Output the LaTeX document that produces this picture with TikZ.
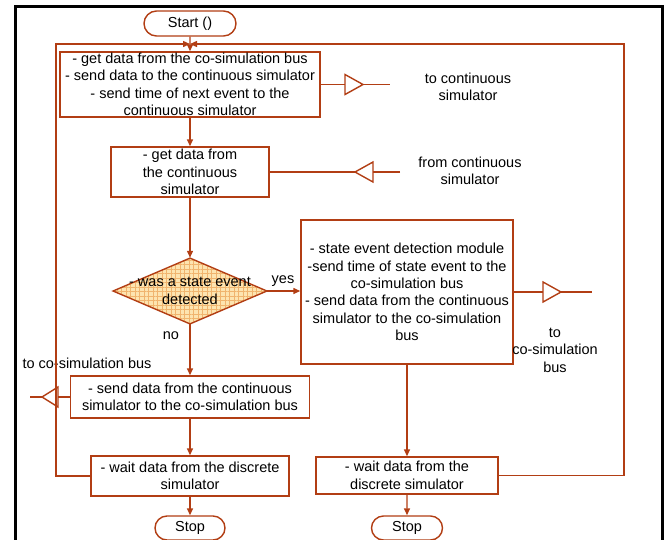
\documentclass[tikz,border=0pt]{standalone}
\usepackage{fontspec}
\setmainfont{Liberation Sans}
\usepackage{xcolor}
\usepackage{tikz}
\usetikzlibrary{arrows.meta, positioning, shapes.geometric, shapes.misc, patterns.meta}
\definecolor{flowred}{RGB}{178,62,20}
\definecolor{diafill}{RGB}{253,228,176}
\definecolor{diagrid}{RGB}{240,180,110}

\begin{document}
\begin{tikzpicture}[x=1pt, y=-1pt,
  every node/.style={font=\fontsize{14.5}{17.4}\selectfont, inner sep=0pt},
  proc/.style={draw=flowred, line width=1.4pt, align=center, fill=white},
  term/.style={draw=flowred, line width=1.4pt, rounded rectangle, fill=white},
  cond/.style={diamond, draw=flowred, line width=1.4pt, preaction={fill=diafill},
    pattern={Hatch[distance=4.5pt, line width=0.5pt]}, pattern color=diagrid},
  port/.style={isosceles triangle, isosceles triangle stretches, draw=flowred, line width=1.4pt, fill=white, outer sep=0pt, minimum width=20, minimum height=18},
  link/.style={draw=flowred, line width=1.4pt},
  flow/.style={link, -{Triangle[length=7pt,width=6pt]}},
  lbl/.style={align=center}]
  \useasboundingbox (0,0) rectangle (665,539);
  % outer frame, open at the bottom
  \draw[line width=3pt] (15,545) -- (15,6) -- (662,6) -- (662,545);
  % left column
  \node[term, minimum width=92, minimum height=25] (start) at (190,23.5) {Start ()};
  \node[proc, minimum width=260, minimum height=65] (getbus) at (190,84.5)
    {- get data from the co-simulation  bus\\- send data to the continuous simulator\\- send time of next event to the\\continuous simulator};
  \node[proc, minimum width=158, minimum height=50] (getcont) at (190,172)
    {- get data from\\the continuous\\simulator};
  \node[cond, minimum width=154, minimum height=66] (detect) at (190,291)
    {};
  \node[lbl] at (detect.center) {- was a state event\\detected};
  \node[proc, minimum width=239, minimum height=42] (sendL) at (190,397)
    {- send data from the continuous\\simulator to the co-simulation  bus};
  \node[proc, minimum width=198, minimum height=40] (waitL) at (190,476)
    {- wait data from the discrete\\simulator};
  \node[term, minimum width=70, minimum height=24] (stopL) at (190,528) {Stop};
  % right column
  \node[proc, minimum width=212, minimum height=144] (sebox) at (407,292)
    {- state event detection module\\-send time of state event to the\\co-simulation  bus\\- send data from the continuous\\simulator to the co-simulation\\bus};
  \node[proc, minimum width=182, minimum height=37] (waitR) at (407,475.5)
    {- wait data from the\\discrete simulator};
  \node[term, minimum width=71, minimum height=24] (stopR) at (407,528) {Stop};
  % ports
  \node[port, anchor=lower side] (portA) at (345,84.5) {};
  \node[port, shape border rotate=180, anchor=lower side] (portB) at (373,172) {};
  \node[port, anchor=lower side] (portC) at (543,292) {};
  \node[port, shape border rotate=180, anchor=lower side, minimum height=16] (portD) at (58,397) {};
  \coordinate (endA) at (390,84.5);
  \coordinate (endB) at (400,172);
  \coordinate (endC) at (592,292);
  \coordinate (endD) at (30,397);
  % loop back lines
  \coordinate (loopL) at (56,44);
  \coordinate (loopR) at (624,44);
  \coordinate (join) at (190,44);
  % labels
  \node[lbl] (labA) at (468,87) {to continuous\\simulator};
  \node[lbl] (labB) at (470,171) {from continuous\\simulator};
  \node[lbl] (labC) at (555,350) {to\\co-simulation\\bus};
  \node[lbl] (labD) at (87,363) {to co-simulation bus};
  \node (yes) at (283,281) {yes};
  \node (no) at (171,336) {no};
  % connectors
  \draw[flow] (start) -- (getbus);
  \draw[flow] (getbus) -- (getcont);
  \draw[flow] (getcont) -- (detect);
  \draw[flow] (detect.east) -- (sebox.west |- detect.east);
  \draw[flow] (detect) -- (sendL);
  \draw[flow] (sendL) -- (waitL);
  \draw[flow] (waitL) -- (stopL);
  \draw[flow] (sebox) -- (waitR);
  \draw[flow] (waitR) -- (stopR);
  \draw[flow] (waitL.west) -| (loopL) -- (join);
  \draw[flow] (waitR.east) -| (loopR) -- (join);
  \draw[link] (getbus.east) -- (portA.lower side);
  \draw[link] (portA.apex) -- (endA);
  \draw[link] (endB) -- (portB.lower side);
  \draw[link] (portB.apex) -- (getcont.east);
  \draw[link] (sebox.east) -- (portC.lower side);
  \draw[link] (portC.apex) -- (endC);
  \draw[link] (sendL.west) -- (portD.lower side);
  \draw[link] (portD.apex) -- (endD);
\end{tikzpicture}
\end{document}
